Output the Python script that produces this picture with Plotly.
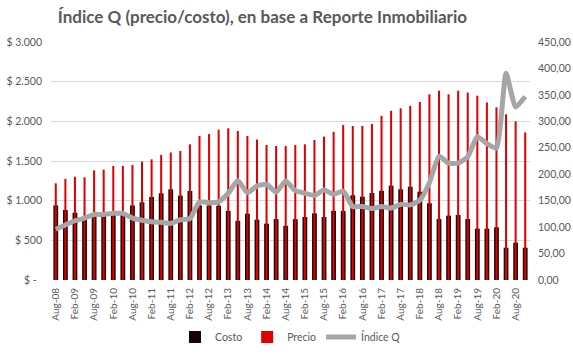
import plotly.graph_objects as go

categories = ["Aug-08","Nov-08","Feb-09","May-09","Aug-09","Nov-09","Feb-10","May-10","Aug-10","Nov-10",
              "Feb-11","May-11","Aug-11","Nov-11","Feb-12","May-12","Aug-12","Nov-12","Feb-13","May-13",
              "Aug-13","Nov-13","Feb-14","May-14","Aug-14","Nov-14","Feb-15","May-15","Aug-15","Nov-15",
              "Feb-16","May-16","Aug-16","Nov-16","Feb-17","May-17","Aug-17","Nov-17","Feb-18","May-18",
              "Aug-18","Nov-18","Feb-19","May-19","Aug-19","Nov-19","Feb-20","May-20","Aug-20","Nov-20"]

tick_labels = ["Aug-08","Feb-09","Aug-09","Feb-10","Aug-10","Feb-11","Aug-11","Feb-12","Aug-12","Feb-13",
               "Aug-13","Feb-14","Aug-14","Feb-15","Aug-15","Feb-16","Aug-16","Feb-17","Aug-17","Feb-18",
               "Aug-18","Feb-19","Aug-19","Feb-20","Aug-20"]

precio = [1219,1273,1302,1294,1382,1391,1437,1437,1450,1492,
          1521,1576,1607,1626,1710,1815,1840,1895,1912,1878,
          1815,1770,1702,1689,1689,1702,1710,1765,1807,1868,
          1954,1941,1941,1966,2069,2132,2164,2195,2244,2341,
          2386,2341,2386,2363,2323,2238,2177,2089,2000,1860]

costo = [940,882,848,775,815,825,835,835,940,979,
         1046,1092,1143,1063,1122,940,940,935,872,746,
         836,760,710,767,683,767,794,840,794,872,
         870,1067,1050,1096,1124,1189,1143,1176,1113,967,
         769,811,819,767,647,647,664,407,470,407]

indice_q = [96,104,112,117,124,124,126,126,117,113,
            110,109,107,114,116,148,146,148,164,188,
            165,178,181,166,187,169,164,160,170,162,
            168,139,139,135,139,136,143,142,151,184,
            234,221,221,233,271,258,249,391,327,347]

left_ticks = [0, 500, 1000, 1500, 2000, 2500, 3000]
left_text = ["$ -\u00a0\u00a0", "$ 500", "$ 1.000", "$ 1.500", "$ 2.000", "$ 2.500", "$ 3.000"]
right_ticks = [0, 50, 100, 150, 200, 250, 300, 350, 400, 450]
right_text = ["0,00", "50,00", "100,00", "150,00", "200,00", "250,00", "300,00", "350,00", "400,00", "450,00"]

font_family = "Lato, 'Open Sans', sans-serif"
gray = "#595959"

fig = go.Figure()
fig.add_trace(go.Bar(x=categories, y=costo, name="Costo", width=0.5,
                     marker=dict(color="#170303", line=dict(width=0))))
fig.add_trace(go.Bar(x=categories, y=precio, name="Precio", width=0.21,
                     marker=dict(color="#e00000", line=dict(width=0))))
fig.add_trace(go.Scatter(x=categories, y=indice_q, name="Índice Q", yaxis="y2", mode="lines",
                         line=dict(color="#a6a6a6", width=5, shape="spline", smoothing=0.5)))

fig.update_layout(
    width=573, height=354,
    margin=dict(l=51, r=43, t=42, b=74, autoexpand=False),
    paper_bgcolor="white", plot_bgcolor="white",
    barmode="overlay",
    font=dict(family=font_family, size=10, color=gray),
    title=dict(text="<b>Índice Q (precio/costo), en base a Reporte Inmobiliario</b>",
               x=0.458, xanchor="center", y=0.953, yanchor="middle",
               font=dict(family=font_family, size=17, color=gray)),
    xaxis=dict(type="category", categoryorder="array", categoryarray=categories,
               tickmode="array", tickvals=tick_labels, ticktext=tick_labels,
               tickangle=-90, showgrid=False, showline=False, ticks="", automargin=False,
               tickfont=dict(size=10, color=gray), range=[-0.5, 49.5], ticklabelstandoff=5),
    yaxis=dict(range=[0, 3000], tickmode="array", tickvals=left_ticks, ticktext=left_text,
               showgrid=True, gridcolor="#d9d9d9", gridwidth=1, zeroline=False, showline=False,
               automargin=False,
               tickfont=dict(size=10.5, color=gray), ticks="", ticklabelstandoff=8),
    yaxis2=dict(range=[0, 450], overlaying="y", side="right", tickmode="array",
                tickvals=right_ticks, ticktext=right_text, showgrid=False, zeroline=False,
                showline=False, automargin=False,
                tickfont=dict(size=10.5, color=gray), ticks="", ticklabelstandoff=7),
    legend=dict(orientation="h", x=0.5, xanchor="center", y=-0.24, yanchor="middle",
                font=dict(size=10.5, color=gray), bgcolor="rgba(0,0,0,0)"),
    showlegend=True,
)

fig.write_html("out.html")
